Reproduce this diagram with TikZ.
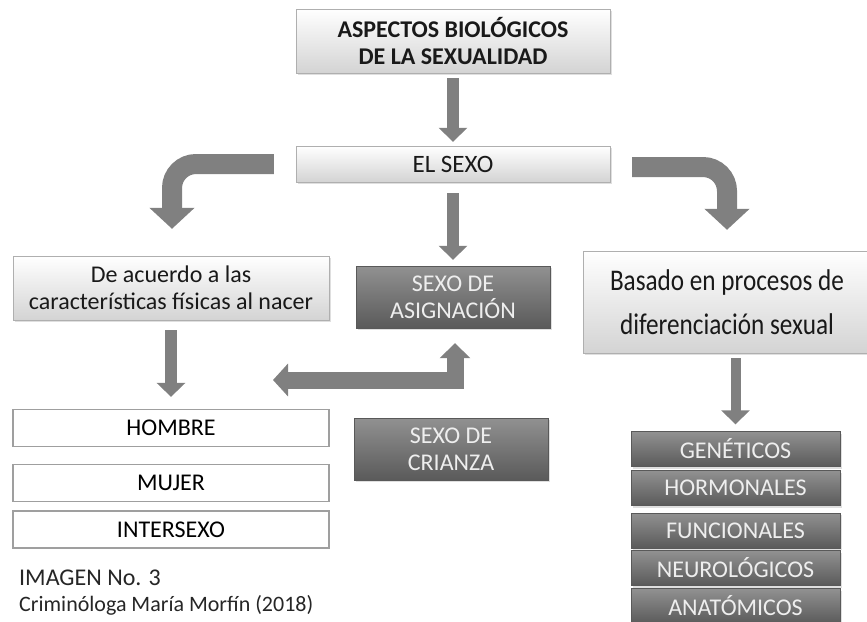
\documentclass[tikz,border=0pt]{standalone}
\usepackage{fontspec}
\setmainfont{Carlito}
\newfontfamily\narrowfont[FakeStretch=0.84]{Carlito}
\usetikzlibrary{arrows.meta,shadows,positioning}

\definecolor{arrowgray}{RGB}{128,128,128}
\definecolor{boxline}{RGB}{175,175,175}
\definecolor{darktop}{RGB}{145,145,145}
\definecolor{darkbot}{RGB}{90,90,90}
\definecolor{darktext}{RGB}{238,238,238}

\tikzset{
	lightbox/.style={draw=boxline, top color=white, bottom color=gray!34, inner sep=0pt, align=center, text=black!90,
		drop shadow={shadow xshift=2pt, shadow yshift=-2pt, opacity=0.25}},
	darkbox/.style={draw=gray!70!black, top color=darktop, bottom color=darkbot, inner sep=0pt, align=center, text=darktext,
		drop shadow={shadow xshift=2pt, shadow yshift=-2pt, opacity=0.25}},
	whitebox/.style={draw=gray!75, fill=white, line width=1.3pt, inner sep=0pt, minimum width=316pt, minimum height=37pt, font=\fontsize{24}{28}\selectfont},
	stackbox/.style={darkbox, minimum width=209pt, minimum height=35pt, font=\fontsize{24}{28}\selectfont},
	captiontext/.style={anchor=west, inner sep=0pt, text=black!85},
	blockarrow/.style={draw=arrowgray, line width=12pt, -{Triangle[length=14pt,width=28pt]}},
	bendarrow/.style={draw=arrowgray, line width=20pt, rounded corners=24pt, -{Triangle[length=21pt,width=44pt]}},
}

\begin{document}
\begin{tikzpicture}[x=1pt, y=-1pt]
	\useasboundingbox (0,0) rectangle (867,621);
	\fill[white] (0,0) rectangle (867,621);

	% top of the chart
	\node[lightbox, minimum width=314pt, minimum height=64pt, font=\bfseries\fontsize{24}{27}\selectfont] (bio) at (453,41) {ASPECTOS BIOLÓGICOS\\DE LA SEXUALIDAD};
	\node[lightbox, minimum width=314pt, minimum height=36pt, font=\fontsize{25}{28}\selectfont] (sexo) at (453,164) {EL SEXO};

	% three branches
	\node[lightbox, minimum width=316pt, minimum height=64pt, font=\fontsize{24}{27}\selectfont] (fisicas) at (171,288) {De acuerdo a las\\características físicas al nacer};
	\node[darkbox, minimum width=194pt, minimum height=62pt, font=\fontsize{24}{27}\selectfont] (asig) at (453,297) {SEXO DE\\ASIGNACIÓN};
	\node[lightbox, minimum width=288pt, minimum height=102pt, font=\narrowfont\fontsize{30}{44}\selectfont] (basado) at (727,302) {Basado en procesos de\\diferenciación sexual};

	\node[darkbox, minimum width=194pt, minimum height=62pt, font=\fontsize{24}{27}\selectfont] (crianza) at (451,449) {SEXO DE\\CRIANZA};

	\foreach \name/\ypos/\txt in {hombre/428/HOMBRE, mujer/483/MUJER, inter/529.5/INTERSEXO}
		\node[whitebox] (\name) at (171,\ypos) {\txt};

	\foreach \name/\ypos/\txt in {gen/449/GENÉTICOS, hor/488/HORMONALES, fun/530.5/FUNCIONALES, neu/568/NEUROLÓGICOS, ana/606/ANATÓMICOS}
		\node[stackbox] (\name) at (735.5,\ypos) {\txt};

	\node[captiontext, font=\fontsize{24}{28}\selectfont] (caption) at (19,578) {IMAGEN No. 3};
	\node[captiontext, font=\fontsize{22}{26}\selectfont] (author) at (19,605) {Criminóloga María Morfín (2018)};

	% arrows
	\draw[blockarrow] ([yshift=-5pt]bio.south) -- ([yshift=4pt]sexo.north);
	\draw[blockarrow] ([yshift=-11pt]sexo.south) -- ([yshift=6pt]asig.north);
	\draw[bendarrow] ([xshift=-22pt]sexo.west) -| ([xshift=1pt,yshift=27pt]fisicas.north);
	\draw[bendarrow] ([xshift=22pt,yshift=-3pt]sexo.east) -| ([yshift=21pt]basado.north);
	\draw[blockarrow] ([yshift=-10pt]fisicas.south) -- ([yshift=12pt]hombre.north);
	\draw[blockarrow, line width=10pt] ([yshift=-5pt]basado.south -| gen.north) -- ([yshift=7pt]gen.north);

	\coordinate (elbowend) at (273,380);
	\draw[draw=arrowgray, line width=17pt, {Triangle[length=15pt,width=32pt]}-{Triangle[length=15pt,width=30pt]}]
		(elbowend) -| ([xshift=2pt,yshift=-15pt]asig.south);
\end{tikzpicture}
\end{document}
